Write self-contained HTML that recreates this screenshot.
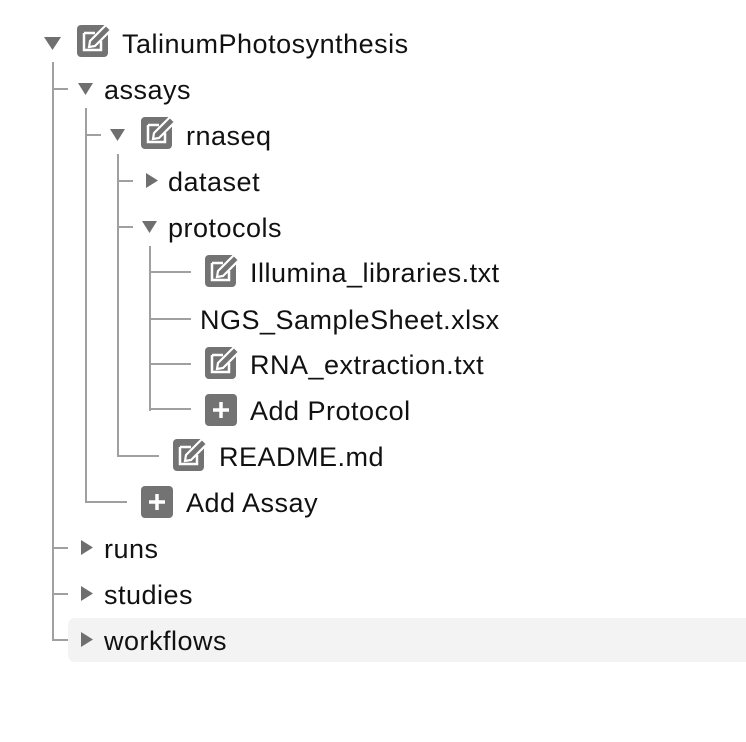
<!DOCTYPE html>
<html><head><meta charset="utf-8"><style>
html,body{margin:0;padding:0;background:#fff;width:746px;height:742px;overflow:hidden;position:relative;font-family:"Liberation Sans",Helvetica,Arial,sans-serif;}
.t{position:absolute;font-size:27px;letter-spacing:0.5px;color:#111;line-height:30px;white-space:nowrap;}
.l{position:absolute;background:#a0a0a0;}
.hl{position:absolute;left:68px;top:618px;width:690px;height:44px;background:#f3f3f3;border-radius:7px;}
svg{position:absolute;overflow:visible;}
</style></head><body>
<div class="hl"></div>

<div class="l" style="left:52px;top:62px;width:2px;height:579px"></div>
<div class="l" style="left:85px;top:108px;width:2px;height:395px"></div>
<div class="l" style="left:117px;top:154px;width:2px;height:303px"></div>
<div class="l" style="left:149px;top:246px;width:2px;height:165px"></div>
<div class="l" style="left:52px;top:88px;width:16px;height:2px"></div>
<div class="l" style="left:85px;top:134px;width:16px;height:2px"></div>
<div class="l" style="left:117px;top:180px;width:16px;height:2px"></div>
<div class="l" style="left:117px;top:226px;width:16px;height:2px"></div>
<div class="l" style="left:149px;top:271px;width:42px;height:2px"></div>
<div class="l" style="left:149px;top:318px;width:42px;height:2px"></div>
<div class="l" style="left:149px;top:363px;width:42px;height:2px"></div>
<div class="l" style="left:149px;top:408px;width:42px;height:2px"></div>
<div class="l" style="left:117px;top:455px;width:42px;height:2px"></div>
<div class="l" style="left:85px;top:501px;width:42px;height:2px"></div>
<div class="l" style="left:52px;top:547px;width:16px;height:2px"></div>
<div class="l" style="left:52px;top:593px;width:16px;height:2px"></div>
<div class="l" style="left:52px;top:639px;width:16px;height:2px"></div>

<svg style="left:44px;top:37px" width="18" height="14"><polygon points="0,0 17,0 8.5,13" fill="#6f6f6f"/></svg>
<svg style="left:78px;top:83px" width="16" height="13"><polygon points="0,0 15,0 7.5,12" fill="#6f6f6f"/></svg>
<svg style="left:110px;top:129px" width="16" height="13"><polygon points="0,0 15,0 7.5,12" fill="#6f6f6f"/></svg>
<svg style="left:146px;top:173px" width="13" height="16"><polygon points="0,0 12,7.5 0,15" fill="#6f6f6f"/></svg>
<svg style="left:142px;top:221px" width="16" height="13"><polygon points="0,0 15,0 7.5,12" fill="#6f6f6f"/></svg>
<svg style="left:81px;top:540px" width="13" height="16"><polygon points="0,0 12,7.5 0,15" fill="#6f6f6f"/></svg>
<svg style="left:81px;top:586px" width="13" height="16"><polygon points="0,0 12,7.5 0,15" fill="#6f6f6f"/></svg>
<svg style="left:81px;top:632px" width="13" height="16"><polygon points="0,0 12,7.5 0,15" fill="#6f6f6f"/></svg>

<svg style="left:77px;top:22px" width="36" height="36"><rect x="0" y="3" width="31" height="32" rx="4" fill="#737373"/><path d="M7 11 H18 M7 11 V28 H24 V19" stroke="#fff" stroke-width="2.5" fill="none"/><path d="M12 25 L13 19 L29 3 L34 8 L18 24 Z" fill="#737373" stroke="#fff" stroke-width="2.2"/></svg>
<svg style="left:141px;top:114px" width="36" height="36"><rect x="0" y="3" width="31" height="32" rx="4" fill="#737373"/><path d="M7 11 H18 M7 11 V28 H24 V19" stroke="#fff" stroke-width="2.5" fill="none"/><path d="M12 25 L13 19 L29 3 L34 8 L18 24 Z" fill="#737373" stroke="#fff" stroke-width="2.2"/></svg>
<svg style="left:205px;top:252px" width="36" height="36"><rect x="0" y="3" width="31" height="32" rx="4" fill="#737373"/><path d="M7 11 H18 M7 11 V28 H24 V19" stroke="#fff" stroke-width="2.5" fill="none"/><path d="M12 25 L13 19 L29 3 L34 8 L18 24 Z" fill="#737373" stroke="#fff" stroke-width="2.2"/></svg>
<svg style="left:205px;top:344px" width="36" height="36"><rect x="0" y="3" width="31" height="32" rx="4" fill="#737373"/><path d="M7 11 H18 M7 11 V28 H24 V19" stroke="#fff" stroke-width="2.5" fill="none"/><path d="M12 25 L13 19 L29 3 L34 8 L18 24 Z" fill="#737373" stroke="#fff" stroke-width="2.2"/></svg>
<svg style="left:173px;top:436px" width="36" height="36"><rect x="0" y="3" width="31" height="32" rx="4" fill="#737373"/><path d="M7 11 H18 M7 11 V28 H24 V19" stroke="#fff" stroke-width="2.5" fill="none"/><path d="M12 25 L13 19 L29 3 L34 8 L18 24 Z" fill="#737373" stroke="#fff" stroke-width="2.2"/></svg>
<svg style="left:205px;top:394px" width="32" height="32"><rect width="32" height="32" rx="4" fill="#737373"/><path d="M16 8 V24 M8 16 H24" stroke="#fff" stroke-width="3.5"/></svg>
<svg style="left:141px;top:486px" width="32" height="32"><rect width="32" height="32" rx="4" fill="#737373"/><path d="M16 8 V24 M8 16 H24" stroke="#fff" stroke-width="3.5"/></svg>

<div class="t" style="left:122px;top:29px">TalinumPhotosynthesis</div>
<div class="t" style="left:104px;top:75px">assays</div>
<div class="t" style="left:186px;top:121px">rnaseq</div>
<div class="t" style="left:168px;top:167px">dataset</div>
<div class="t" style="left:168px;top:213px">protocols</div>
<div class="t" style="left:250px;top:258px">Illumina_libraries.txt</div>
<div class="t" style="left:200px;top:305px">NGS_SampleSheet.xlsx</div>
<div class="t" style="left:250px;top:350px">RNA_extraction.txt</div>
<div class="t" style="left:250px;top:396px">Add Protocol</div>
<div class="t" style="left:219px;top:442px">README.md</div>
<div class="t" style="left:186px;top:488px">Add Assay</div>
<div class="t" style="left:104px;top:534px">runs</div>
<div class="t" style="left:104px;top:580px">studies</div>
<div class="t" style="left:104px;top:626px">workflows</div>
</body></html>
